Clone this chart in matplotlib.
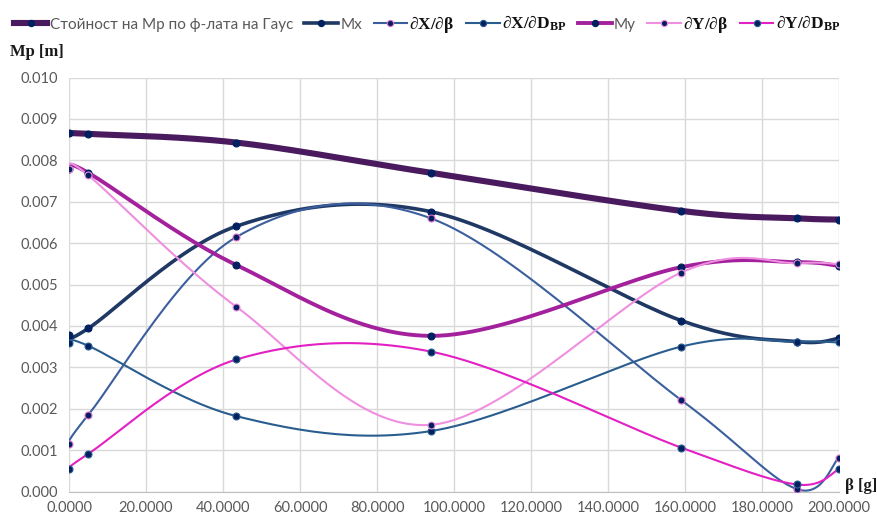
import numpy as np
import matplotlib.pyplot as plt
from matplotlib.lines import Line2D

plt.rcParams['mathtext.fontset'] = 'custom'
plt.rcParams['mathtext.rm'] = 'Liberation Serif:bold'
plt.rcParams['mathtext.bf'] = 'Liberation Serif:bold'
plt.rcParams['mathtext.it'] = 'Liberation Serif:bold:italic'

beta = [0.0, 5.0, 43.5, 94.0, 159.0, 189.0, 200.0]

mp_gauss = [0.00865, 0.00864, 0.00843, 0.00770, 0.00678, 0.00660, 0.00657]
mx = [0.00378, 0.00394, 0.00641, 0.00676, 0.00413, 0.00362, 0.00370]
dx_dbeta = [0.00115, 0.00185, 0.00615, 0.00660, 0.00221, 0.00006, 0.00082]
dx_dd = [0.00358, 0.00352, 0.00182, 0.00146, 0.00350, 0.00362, 0.00360]
my = [0.00779, 0.00770, 0.00547, 0.00376, 0.00542, 0.00554, 0.00545]
dy_dbeta = [0.00779, 0.00764, 0.00446, 0.00161, 0.00529, 0.00552, 0.00549]
dy_dd = [0.00054, 0.00091, 0.00319, 0.00338, 0.00106, 0.00017, 0.00054]

labels = ['Стойност на Мр по ф-лата на Гаус', 'Mx',
          r'$\it{\partial}\mathbf{X}/\it{\partial}\mathbf{\beta}$',
          r'$\it{\partial}\mathbf{X}/\it{\partial}\mathbf{D}_{\mathbf{BP}}$',
          'My',
          r'$\it{\partial}\mathbf{Y}/\it{\partial}\mathbf{\beta}$',
          r'$\it{\partial}\mathbf{Y}/\it{\partial}\mathbf{D}_{\mathbf{BP}}$']
series = [mp_gauss, mx, dx_dbeta, dx_dd, my, dy_dbeta, dy_dd]
colors = ['#4a1a5e', '#203864', '#3b5f9e', '#2a5d8f', '#a3219c', '#ef8fe0', '#e41fc4']
widths = [4.4, 2.6, 1.5, 1.5, 2.8, 1.5, 1.5]
edges = ['#002060', '#002060', '#e070d0', '#2a5d8f', '#002060', '#ef8fe0', '#2a5d8f']


def smooth(xs, ys, n=30):
    # Bezier segments with Catmull-Rom style control points
    p = np.column_stack([xs, ys]).astype(float)
    sx = np.ptp(xs)
    sy = 0.010
    q = p / [sx, sy]
    out = []
    for i in range(len(q) - 1):
        p0 = q[i - 1] if i > 0 else q[i]
        p1, p2 = q[i], q[i + 1]
        p3 = q[i + 2] if i + 2 < len(q) else q[i + 1]
        c1 = p1 + (p2 - p0) / 6.0
        c2 = p2 - (p3 - p1) / 6.0
        t = np.linspace(0, 1, n)[:, None]
        seg = ((1 - t) ** 3) * p1 + 3 * ((1 - t) ** 2) * t * c1 + 3 * (1 - t) * t ** 2 * c2 + t ** 3 * p2
        out.append(seg if i == 0 else seg[1:])
    out = np.vstack(out) * [sx, sy]
    return out[:, 0], out[:, 1]


fig = plt.figure(figsize=(8.78, 5.2), dpi=100)
ax = fig.add_axes([0.0786, 0.0548, 0.877, 0.796])

handles = []
for ys, c, w, e, lab in zip(series, colors, widths, edges, labels):
    sx_, sy_ = smooth(beta, ys)
    ax.plot(sx_, sy_, color=c, lw=w, solid_capstyle='round', zorder=3)
    ax.plot(beta, ys, ls='none', marker='o', ms=5, mfc='#002060', mec=e, mew=0.8, zorder=4)
    handles.append(Line2D([0], [0], color=c, lw=w, marker='o', ms=4.5,
                          mfc='#002060', mec=e, mew=0.8))

ax.set_xlim(0, 200)
ax.set_ylim(0, 0.010)
ax.set_xticks(np.arange(0, 201, 20))
ax.set_yticks(np.arange(0, 0.0101, 0.001))
ax.set_xticklabels(['%.4f' % v for v in np.arange(0, 201, 20)])
ax.set_yticklabels(['%.3f' % v for v in np.arange(0, 0.0101, 0.001)])
ax.tick_params(length=0, labelsize=10.5, labelcolor='#595959', pad=8)
ax.tick_params(axis='x', pad=7)
for lab in ax.get_xticklabels() + ax.get_yticklabels():
    lab.set_fontfamily('Lato')
ax.grid(True, color='#d9d9d9', lw=1)
ax.set_axisbelow(True)
for s in ['top', 'right', 'left']:
    ax.spines[s].set_visible(False)
ax.spines['bottom'].set_color('#bfbfbf')

fig.text(0.011, 0.893, 'Mp [m]', fontsize=12, fontweight='bold',
         family='Liberation Serif', color='#1a1a1a')
fig.text(0.962, 0.058, 'β [g]', fontsize=12, fontweight='bold',
         family='Liberation Serif', color='#1a1a1a')

leg = fig.legend(handles, labels, loc='upper left', bbox_to_anchor=(0.0, 1.0),
                 ncol=7, frameon=False, handlelength=2.2, handletextpad=0.15,
                 columnspacing=0.75, prop={'family': 'Lato', 'size': 11})
for t, lab in zip(leg.get_texts(), labels):
    if lab.startswith('$'):
        t.set_color('#111111')
        t.set_fontsize(12.5)
    else:
        t.set_color('#595959')

fig.savefig('out.png', dpi=100)
